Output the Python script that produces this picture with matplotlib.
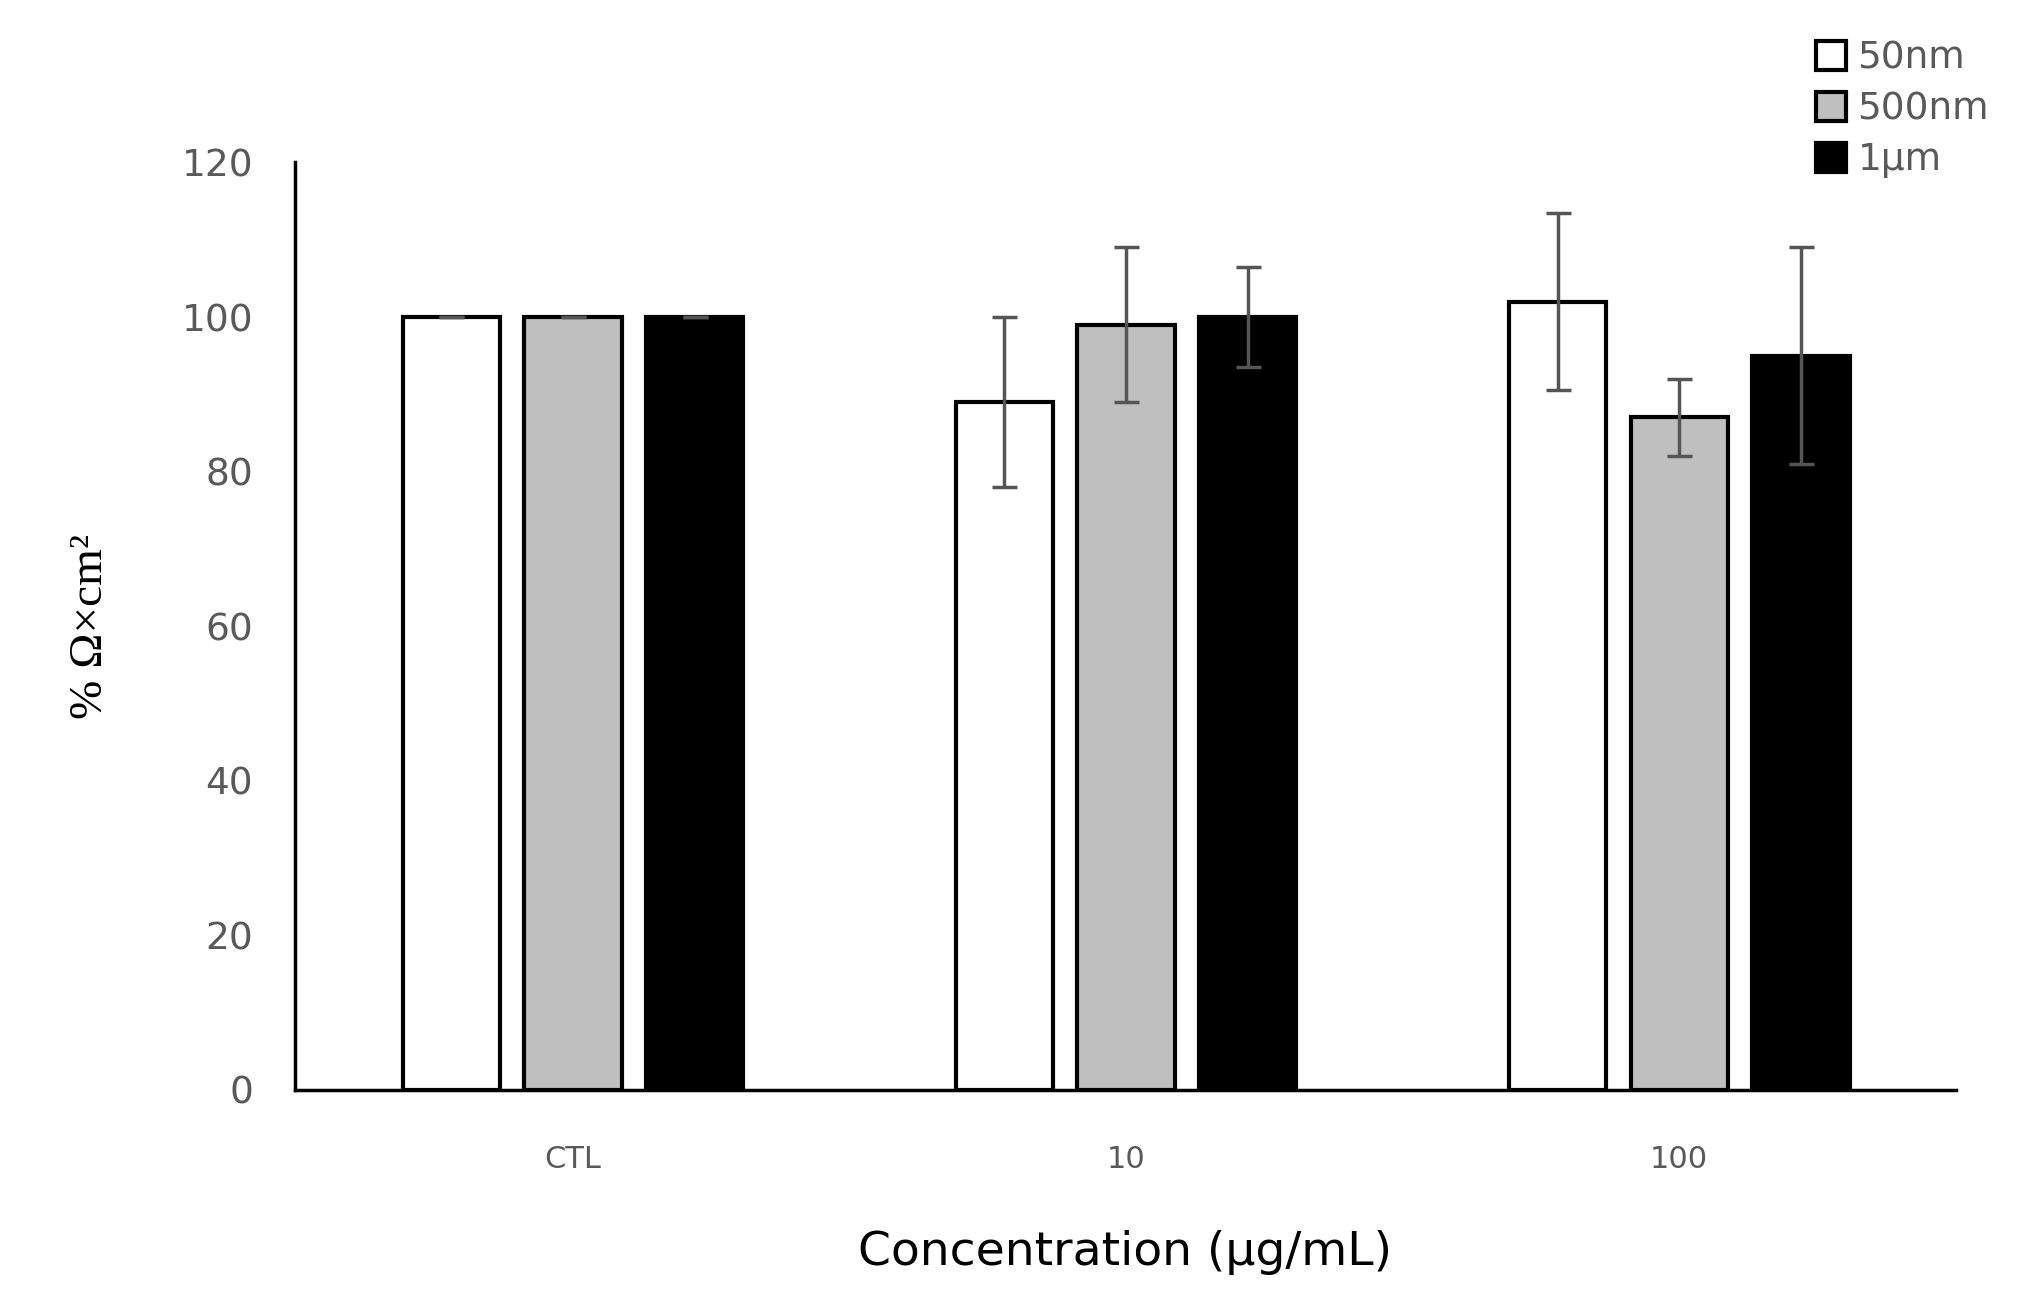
import matplotlib
matplotlib.use("Agg")
import matplotlib.pyplot as plt
import numpy as np

categories = ["CTL", "10", "100"]
series = ["50nm", "500nm", "1\u00b5m"]
values = {
    "50nm": [100, 89, 102],
    "500nm": [100, 99, 87],
    "1\u00b5m": [100, 100, 95],
}
errors = {
    "50nm": [0, 11, 11.5],
    "500nm": [0, 10, 5],
    "1\u00b5m": [0, 6.5, 14],
}
colors = ["white", "#bfbfbf", "black"]

fig = plt.figure(figsize=(20.33, 13.1), dpi=100)
ax = fig.add_axes([0.145, 0.168, 0.817, 0.708])

x = np.arange(len(categories))
width = 0.176
offsets = [-0.22, 0, 0.22]
for name, off, c in zip(series, offsets, colors):
    ax.bar(x + off, values[name], width, color=c, edgecolor="black", linewidth=3,
           label=name, yerr=errors[name], capsize=9,
           error_kw=dict(ecolor="#555555", elinewidth=2.5, capthick=2.5))

ax.set_xlim(-0.503, 2.5)
ax.set_ylim(0, 120)
ax.set_yticks(range(0, 121, 20))
ax.set_xticks(x)
ax.set_xticklabels(categories)
ax.tick_params(axis="y", length=0, labelsize=27, colors="#595959", pad=30)
ax.tick_params(axis="x", length=0, labelsize=22, colors="#595959", pad=40)
for s in ["top", "right"]:
    ax.spines[s].set_visible(False)
ax.spines["left"].set_linewidth(2.5)
ax.spines["bottom"].set_linewidth(2.5)

ax.set_ylabel("% \u03a9\u00d7cm\u00b2", fontsize=34, family="Liberation Serif", labelpad=50)
ax.set_xlabel("Concentration (\u00b5g/mL)", fontsize=34, labelpad=40)

leg = fig.legend(loc="upper right", bbox_to_anchor=(0.995, 0.995), frameon=False,
                 fontsize=27, handlelength=0.8, handleheight=0.8, handletextpad=0.3,
                 labelspacing=0.4, labelcolor="#595959")

fig.savefig("out.png", dpi=100)
